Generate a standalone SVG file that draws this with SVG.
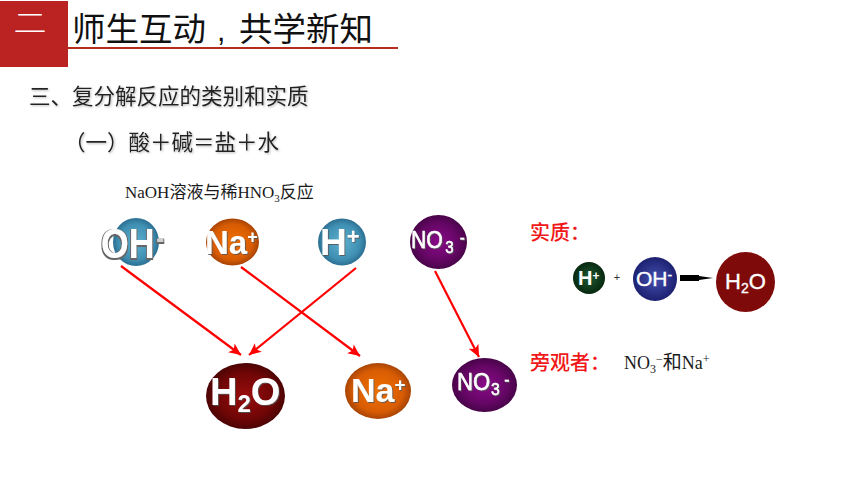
<svg xmlns="http://www.w3.org/2000/svg" width="860" height="484" viewBox="0 0 860 484">
<style>
.cjk{font-family:"Noto Sans CJK SC","Liberation Sans",sans-serif}
.ser{font-family:"Liberation Serif","Noto Sans CJK SC",serif;fill:#1a1a1a}
.ion{font-family:"Liberation Sans",Arial,sans-serif;font-weight:bold;fill:#fff;filter:url(#ts)}
.ion2{font-family:"Liberation Sans",Arial,sans-serif;fill:#fff;font-weight:bold}
.ion3{font-family:"Liberation Sans",Arial,sans-serif;fill:#fff;font-weight:normal;stroke:#fff;stroke-width:.35px}
.thin{font-weight:normal;stroke:#fff;stroke-width:.5px}
.red{fill:#f01818;font-size:20px;font-weight:500}
.conn{stroke:#f00;stroke-width:2.200;fill:none;marker-end:url(#ah)}
</style>
<defs>
<filter id="ts" x="-20%" y="-20%" width="140%" height="140%"><feMorphology in="SourceAlpha" operator="dilate" radius="0.4"/><feGaussianBlur stdDeviation="0.4"/><feOffset dx="0.7" dy="0.7" result="o"/><feFlood flood-color="#555" flood-opacity="0.85"/><feComposite in2="o" operator="in"/><feMerge><feMergeNode/><feMergeNode in="SourceGraphic"/></feMerge></filter>
<filter id="tsh" x="-20%" y="-20%" width="140%" height="140%"><feMorphology in="SourceAlpha" operator="dilate" radius="0.9"/><feGaussianBlur stdDeviation="0.5"/><feOffset dx="0.5" dy="0.5" result="o"/><feFlood flood-color="#666" flood-opacity="1"/><feComposite in2="o" operator="in"/><feMerge><feMergeNode/><feMergeNode in="SourceGraphic"/></feMerge></filter>
<filter id="ss" x="-5%" y="-20%" width="110%" height="140%"><feDropShadow dx="1" dy="1" stdDeviation="0.8" flood-color="#888" flood-opacity="0.6"/></filter>
<marker id="ah" markerUnits="userSpaceOnUse" markerWidth="13" markerHeight="11" refX="12" refY="5.500" orient="auto"><path d="M0 0L12 5.500L0 11L3 5.500Z" fill="#f00"/></marker>
<radialGradient id="blue"><stop offset="0" stop-color="#5fb0d0"/><stop offset=".75" stop-color="#3f8fb2"/><stop offset="1" stop-color="#2b6f92"/></radialGradient>
<radialGradient id="orange"><stop offset="0" stop-color="#f07000"/><stop offset=".75" stop-color="#d85c04"/><stop offset="1" stop-color="#a84404"/></radialGradient>
<radialGradient id="purple"><stop offset="0" stop-color="#8a0a8a"/><stop offset=".7" stop-color="#640664"/><stop offset="1" stop-color="#480448"/></radialGradient>
<radialGradient id="maroon"><stop offset="0" stop-color="#9a0c0c"/><stop offset=".7" stop-color="#700606"/><stop offset="1" stop-color="#4c0404"/></radialGradient>
<radialGradient id="green"><stop offset="0" stop-color="#1c5a30"/><stop offset="1" stop-color="#082810"/></radialGradient>
<radialGradient id="navy"><stop offset="0" stop-color="#4450b0"/><stop offset="1" stop-color="#1c2070"/></radialGradient>
</defs>
<rect width="860" height="484" fill="#fff"/>
<g id="header">
<rect x="0" y="1" width="68" height="66" fill="#bb2222"/>
<text transform="translate(30 32.500) scale(1.2 1)" font-size="27.500" text-anchor="middle" fill="#fff" class="cjk" font-weight="300">二</text>
<line x1="66" y1="48" x2="398" y2="48" stroke="#b82a1c" stroke-width="2"/>
<text y="41" font-size="33.500" fill="#111" class="cjk"><tspan x="72">师生互动</tspan><tspan x="217" font-family="Liberation Sans" font-size="30">,</tspan><tspan x="239">共学新知</tspan></text>
</g>
<g id="headings">
<text x="29" y="104" font-size="21.500" fill="#222" class="cjk" filter="url(#ss)">三、复分解反应的类别和实质</text>
<text x="64" y="150" font-size="21.500" fill="#222" class="cjk" filter="url(#ss)">（一）酸＋碱＝盐＋水</text>
<text x="125" y="198" font-size="17" class="ser">NaOH溶液与稀HNO<tspan font-size="11" dy="4">3</tspan><tspan dy="-4">反应</tspan></text>
</g>
<g id="connectors">
<line class="conn" x1="121" y1="266" x2="241" y2="355"/>
<line class="conn" x1="241" y1="267" x2="360" y2="356"/>
<line class="conn" x1="356" y1="268" x2="249" y2="355"/>
<line class="conn" x1="435" y1="271" x2="479" y2="357"/>
</g>
<g id="oh-top"><ellipse cx="136" cy="242" rx="23" ry="24" fill="url(#blue)"/><text class="ion" style="filter:url(#tsh)" transform="translate(101 258) scale(.85 1)" font-size="42">OH<tspan font-size="28" dy="-10" dx="2" fill="#d0d0d0">-</tspan></text></g>
<g id="na-top"><ellipse cx="232.500" cy="242" rx="26.500" ry="23.500" fill="url(#orange)"/><text class="ion" x="205" y="254" font-size="33">Na<tspan font-size="18" dy="-11">+</tspan></text></g>
<g id="h-top"><ellipse cx="342" cy="242" rx="24" ry="23.500" fill="url(#blue)"/><text class="ion" x="320" y="255" font-size="37">H<tspan font-size="22" dy="-11">+</tspan></text></g>
<g id="no3-top"><ellipse cx="438.500" cy="242" rx="28.500" ry="27" fill="url(#purple)"/><text class="ion thin" transform="translate(411 248) scale(.88 1)" font-size="24">NO<tspan font-size="17" dy="5" dx="3">3</tspan><tspan font-size="17" dy="-10" dx="7">-</tspan></text></g>
<g id="h2o-bottom"><ellipse cx="245.500" cy="396" rx="39.500" ry="33" fill="url(#maroon)"/><text class="ion" x="210" y="405" font-size="38">H<tspan font-size="24" dy="7">2</tspan><tspan dy="-7">O</tspan></text></g>
<g id="na-bottom"><ellipse cx="378" cy="391" rx="33" ry="28" fill="url(#orange)"/><text class="ion" x="351" y="402" font-size="34">Na<tspan font-size="19" dy="-11">+</tspan></text></g>
<g id="no3-bottom"><ellipse cx="484.500" cy="385" rx="32.500" ry="27" fill="url(#purple)"/><text class="ion thin" transform="translate(457 390) scale(.92 1)" font-size="24">NO<tspan font-size="17" dy="5" dx="1">3</tspan><tspan font-size="17" dy="-10" dx="5">-</tspan></text></g>
<g id="essence-label"><text x="530" y="240" class="cjk red">实质：</text></g>
<g id="h-eq"><circle cx="589" cy="278" r="16" fill="url(#green)"/><text class="ion2" x="578" y="285" font-size="20">H<tspan font-size="12" dy="-5">+</tspan></text></g>
<g id="plus"><text x="617" y="281" font-size="11" text-anchor="middle" fill="#333" font-family="Liberation Sans,sans-serif">+</text></g>
<g id="oh-eq"><ellipse cx="655" cy="279" rx="22" ry="22" fill="url(#navy)"/><text class="ion3" x="636" y="286" font-size="21">OH<tspan font-size="14" dy="-6">-</tspan></text></g>
<g id="eq-arrow"><path d="M680 275L699 275L699 276L713 278L699 280L699 281L680 281Z" fill="#000"/></g>
<g id="h2o-eq"><ellipse cx="745.500" cy="282" rx="29.500" ry="30" fill="#7e0a0a"/><text class="ion3" x="725" y="289" font-size="22">H<tspan font-size="14" dy="4">2</tspan><tspan dy="-4">O</tspan></text></g>
<g id="spectators"><text x="530" y="370" class="cjk red">旁观者：</text>
<text x="624" y="369" font-size="18" class="ser">NO<tspan font-size="12" dy="4">3</tspan><tspan font-size="12" dy="-10">−</tspan><tspan font-size="19" dy="6">和</tspan><tspan font-size="18">Na</tspan><tspan font-size="12" dy="-6">+</tspan></text></g>
</svg>
